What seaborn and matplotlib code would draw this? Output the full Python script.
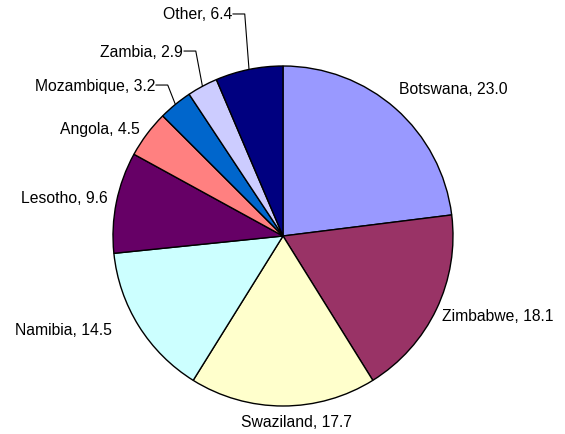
import numpy as np
import matplotlib
matplotlib.use("Agg")
import matplotlib.pyplot as plt
import seaborn as sns

countries = ["Botswana", "Zimbabwe", "Swaziland", "Namibia", "Lesotho",
             "Angola", "Mozambique", "Zambia", "Other"]
shares = [23.0, 18.1, 17.7, 14.5, 9.6, 4.5, 3.2, 2.9, 6.4]
slice_colors = ["#9999FF", "#993366", "#FFFFCC", "#CCFFFF", "#660066",
                "#FF8080", "#0066CC", "#CCCCFF", "#000080"]

sns.set_theme(style="white")
plt.rcParams["font.family"] = ["Liberation Sans", "DejaVu Sans"]
plt.rcParams["text.color"] = "black"

W, H = 565, 435
cx, cy, R = 283, 237, 170  # pie centre / radius in pixels

fig = plt.figure(figsize=(W / 100, H / 100), dpi=100)
ax = fig.add_axes([0, 0, 1, 1])

wedges, _ = ax.pie(shares, colors=slice_colors, startangle=90, counterclock=False,
                   radius=1.0, wedgeprops=dict(edgecolor="black", linewidth=1.0))

# pie() resets limits/aspect, so set them afterwards
ax.set_xlim(-cx / R, (W - cx) / R)
ax.set_ylim(-(H - cy) / R, cy / R)
ax.set_aspect("auto")
ax.axis("off")

# label placement: (ha, va, dx, dy) for plain labels
plain = {
    "Botswana": ("left", "center", 0.02, 0.12),
    "Zimbabwe": ("left", "center", 0.03, -0.04),
    "Swaziland": ("center", "center", 0.08, -0.09),
    "Namibia": ("right", "center", -0.16, -0.02),
    "Lesotho": ("right", "center", -0.05, 0.03),
    "Angola": ("right", "center", -0.04, 0.03),
}
# leader labels: text end position (x, y) in radius units
leader = {
    "Mozambique": (-0.753, 0.888),
    "Zambia": (-0.588, 1.088),
    "Other": (-0.30, 1.306),
}

for w, name, val in zip(wedges, countries, shares):
    mid = np.deg2rad((w.theta1 + w.theta2) / 2)
    ex, ey = np.cos(mid), np.sin(mid)
    label = f"{name}, {val:.1f}"
    if name in plain:
        ha, va, dx, dy = plain[name]
        ax.text(ex + dx, ey + dy, label, ha=ha, va=va, fontsize=11.3, color="black")
    else:
        tx, ty = leader[name]
        ax.text(tx, ty, label, ha="right", va="center", fontsize=11.3, color="black")
        ax.plot([tx + 0.005, tx + 0.075, ex], [ty, ty, ey], color="black", lw=0.8)

fig.savefig("out.png", dpi=100)
